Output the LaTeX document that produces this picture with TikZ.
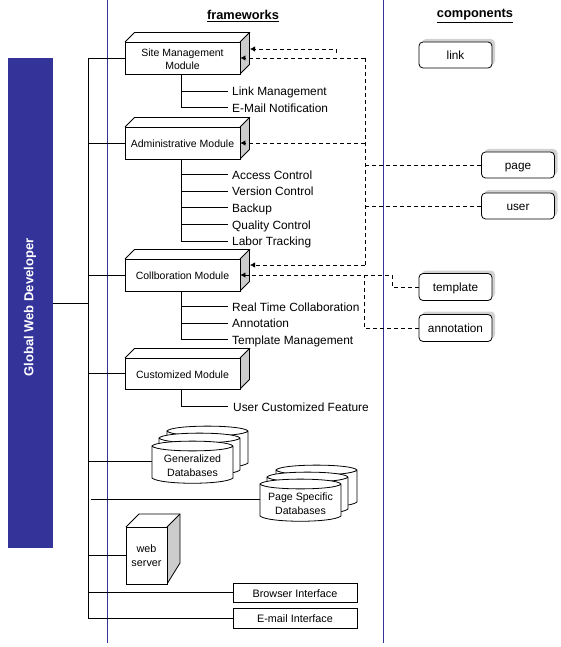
\documentclass[tikz,border=0pt]{standalone}
\usepackage{fontspec}
\setmainfont{Liberation Sans}
\usetikzlibrary{arrows.meta,shadows}
\definecolor{navy}{HTML}{333399}
\definecolor{sidegray}{HTML}{CCCCCC}
\newcommand\threeD[5]{% left, top, right, bottom of the front; depth
  \fill[sidegray] (#3,#2) -- (#3+#5,#2-#5) -- (#3+#5,#4-#5) -- (#3,#4) -- cycle;
  \draw[linew] (#1,#2) -- (#1+#5,#2-#5) -- (#3+#5,#2-#5) -- (#3,#2);
  \draw[linew] (#3+#5,#2-#5) -- (#3+#5,#4-#5) -- (#3,#4);
}
\newcommand\dbcyl[2]{%
  \draw[linew,fill=white] (#1,#2+5) -- (#1,#2+37) .. controls (#1+8,#2+44) and (#1+73,#2+44) .. (#1+81,#2+37) -- (#1+81,#2+5)
    .. controls (#1+76,#2-1.5) and (#1+5,#2-1.5) .. (#1,#2+5) .. controls (#1+5,#2+11.5) and (#1+76,#2+11.5) .. (#1+81,#2+5);
}
\newcommand\dn[2][4.8pt]{\raisebox{-#1}[0pt][0pt]{\begin{tabular}{@{}c@{}}#2\end{tabular}}}
\tikzset{
  x=1pt,y=-1pt,
  linew/.style={line width=0.8pt,black},
  module/.style={draw,linew,fill=white,minimum width=115pt,inner sep=0pt,align=center,font=\fontsize{10.5}{13}\selectfont},
  subitem/.style={anchor=west,inner xsep=4pt,inner ysep=0pt,font=\fontsize{11.9}{13}\selectfont},
  component/.style={draw,linew,fill=white,rounded corners=4pt,minimum width=73pt,minimum height=26pt,inner sep=0pt,
    font=\fontsize{11.8}{13}\selectfont,copy shadow={shadow xshift=3pt,shadow yshift=3pt,draw=none,fill=gray!35}},
  dbtext/.style={minimum width=81pt,inner sep=0pt,align=center,font=\fontsize{10.6}{14}\selectfont},
  iface/.style={draw,linew,fill=white,minimum width=124pt,inner sep=0pt,font=\fontsize{10.8}{13}\selectfont},
  heading/.style={font=\bfseries\fontsize{12.8}{14}\selectfont},
  guide/.style={navy,line width=0.8pt},
  tree/.style={linew},
  dep/.style={linew,dash pattern=on 4pt off 3pt},
  deptip/.style={dep,-{Latex[length=5pt,width=5.5pt]}},
}
\begin{document}
\begin{tikzpicture}
\useasboundingbox (0,0) rectangle (561,647);
% guides
\coordinate (g1t) at (107,0); \coordinate (g1b) at (107,643);
\coordinate (g2t) at (383,0); \coordinate (g2b) at (383,643);
\draw[guide] (g1t) -- (g1b);
\draw[guide] (g2t) -- (g2b);
% headings
\node[heading] (hf) at (243,16) {\underline{frameworks}};
\node[heading] (hc) at (475,16) {\underline{components}};
% developer bar
\node[fill=navy,minimum width=45pt,minimum height=490pt,inner sep=0pt] (gwd) at (30.5,303) {};
\node[rotate=90,text=white,font=\bfseries\fontsize{13}{14}\selectfont] (gwdt) at (30,307.5) {Global Web Developer};
% sub-items
\node[subitem] (lm) at (228,91) {\dn[5pt]{Link Management}};
\node[subitem] (en) at (228,107.5) {\dn[5pt]{E-Mail Notification}};
\node[subitem] (ac) at (228,174.5) {\dn[5pt]{Access Control}};
\node[subitem] (vc) at (228,191) {\dn[5pt]{Version Control}};
\node[subitem] (bk) at (228,207.5) {\dn[5pt]{Backup}};
\node[subitem] (qc) at (228,224.5) {\dn[5pt]{Quality Control}};
\node[subitem] (lt) at (228,241) {\dn[5pt]{Labor Tracking}};
\node[subitem] (rt) at (228,306.5) {\dn[5pt]{Real Time Collaboration}};
\node[subitem] (an) at (228,323) {\dn[5pt]{Annotation}};
\node[subitem] (tm) at (228,339.5) {\dn[5pt]{Template Management}};
\node[subitem,inner xsep=5pt] (uc) at (228,406.5) {\dn[5pt]{User Customized Feature}};
% modules
\threeD{125}{42}{240}{74}{9.5}
\threeD{125}{127}{240}{159}{9.5}
\threeD{125}{259}{240}{291}{9.5}
\threeD{125}{358}{240}{389}{9.5}
\node[module,minimum height=32pt] (site) at (182.5,58) {\dn{Site Management\\Module}};
\node[module,minimum height=32pt] (admin) at (182.5,143) {\dn{Administrative Module}};
\node[module,minimum height=32pt] (collab) at (182.5,275) {\dn{Collboration Module}};
\node[module,minimum height=31pt] (custom) at (182.5,373.5) {\dn{Customized Module}};
% databases
\dbcyl{167}{426}\dbcyl{159}{433}\dbcyl{152}{441}
\node[dbtext] (gen) at (192.5,461) {\dn[8.8pt]{Generalized\\Databases}};
\dbcyl{276}{465}\dbcyl{267}{472}\dbcyl{260}{479}
\node[dbtext] (pdb) at (300.5,499) {\dn[8.8pt]{Page Specific\\Databases}};
% web server
\fill[sidegray] (167,527) -- (180,514) -- (180,563) -- (167,584) -- cycle;
\draw[linew] (126,527) -- (139,514) -- (180,514) -- (180,563) -- (167,584);
\draw[linew] (180,514) -- (167,527);
\node[draw,linew,fill=white,minimum width=41pt,minimum height=57pt,inner sep=0pt,align=center,font=\fontsize{10.8}{14}\selectfont] (web) at (146.5,555.5) {\dn[4.4pt]{web\\server}};
% interfaces
\node[iface,minimum height=19pt] (br) at (295,592.5) {\dn{Browser Interface}};
\node[iface,minimum height=20pt] (em) at (295,618) {\dn{E-mail Interface}};
% components
\node[component] (link) at (455.5,55) {\dn{link}};
\node[component] (page) at (518,165) {\dn{page}};
\node[component] (user) at (518,206) {\dn{user}};
\node[component,minimum height=27pt] (tpl) at (455.5,287) {\dn{template}};
\node[component,minimum height=27pt] (ann) at (455.5,328) {\dn{annotation}};
% trunk
\coordinate (ttop) at (88,58); \coordinate (tbot) at (88,618);
\draw[tree] (ttop) -- (tbot) -- (em.west);
\draw[tree] (ttop) -- (site.west);
\draw[tree] (88,143) -- (admin.west);
\draw[tree] (88,275) -- (collab.west);
\draw[tree] (88,373.5) -- (custom.west);
\draw[tree] (88,461) -- (gen.west);
\coordinate (pstart) at (91,499);
\draw[tree] (pstart) -- (pdb.west);
\draw[tree] (88,555.5) -- (web.west);
\draw[tree] (88,592.5) -- (br.west);
\draw[tree] (gwd.east) -- (88,303);
% module trees
\foreach \t in {lm,en}{\draw[tree] ([xshift=-1pt]site.south) |- (\t.west);}
\foreach \t in {ac,vc,bk,qc,lt}{\draw[tree] ([xshift=-1pt]admin.south) |- (\t.west);}
\foreach \t in {rt,an,tm}{\draw[tree] ([xshift=-1pt]collab.south) |- (\t.west);}
\draw[tree] ([xshift=-1pt]custom.south) |- (uc.west);
% dependencies
\coordinate (busT) at (365,58); \coordinate (busB) at (365,265);
\coordinate (linkA) at (336,53);
\draw[dep] (busT) -- (busB);
\draw[deptip] (linkA) -- (336,49) -- (250,49);
\draw[deptip] (busT) -- (site.east);
\draw[deptip] (365,143) -- (admin.east);
\draw[deptip] (busB) -- (250,265);
\draw[dep] (page.west) -- (366,165);
\draw[dep] (user.west) -- (366,206);
\draw[deptip] (tpl.west) -- (392,287) -- (392,275) -- (collab.east);
\draw[dep] (ann.west) -- (364,328) -- (364,275);
\end{tikzpicture}
\end{document}
